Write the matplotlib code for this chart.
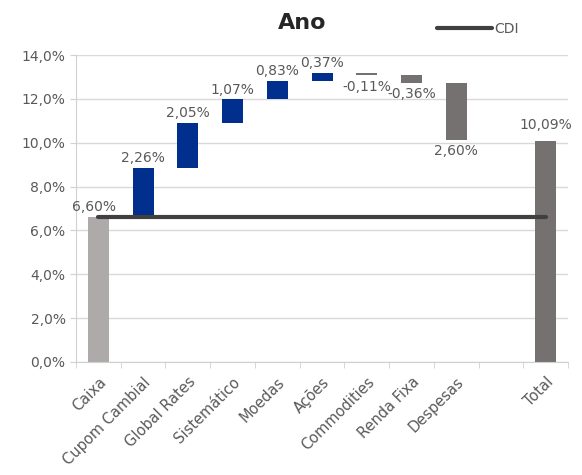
import matplotlib
matplotlib.use('Agg')
from matplotlib import pyplot as plt
import numpy as np

# categorias (a posição vazia entre Despesas e Total faz parte do gráfico)
categorias = ['Caixa', 'Cupom Cambial', 'Global Rates', 'Sistemático', 'Moedas',
              'Ações', 'Commodities', 'Renda Fixa', 'Despesas', '', 'Total']
# contribuições em % (Caixa é a base, Total é o resultado final)
caixa = 6.60
contribuicoes = [2.26, 2.05, 1.07, 0.83, 0.37, -0.11, -0.36, -2.60]
total = 10.09
cdi = 6.60
rotulos = ['6,60%', '2,26%', '2,05%', '1,07%', '0,83%', '0,37%',
           '-0,11%', '-0,36%', '2,60%', '', '10,09%']
y_ticks = [0, 2, 4, 6, 8, 10, 12, 14]

azul = '#002F8E'
cinza_claro = '#AEAAAA'
cinza_escuro = '#767171'
texto = '#595959'

fig = plt.figure(figsize=(5.82, 4.75), dpi=100)
ax = fig.add_axes([0.1306, 0.2379, 0.8454, 0.6463])

x = np.arange(len(categorias))
largura = 0.47

# base e barras flutuantes
ax.bar(x[0], caixa, width=largura, color=cinza_claro, zorder=2)
nivel = caixa
inicio, fim = [], []
for i, v in enumerate(contribuicoes):
    cor = azul if v > 0 else cinza_escuro
    ax.bar(x[i + 1], v, bottom=nivel, width=largura, color=cor, zorder=2)
    inicio.append(nivel)
    nivel += v
    fim.append(nivel)
ax.bar(x[-1], total, width=largura, color=cinza_escuro, zorder=2)

# rótulos de dados
ax.annotate(rotulos[0], (x[0] - 0.1, caixa), xytext=(0, 2), textcoords='offset points',
            ha='center', va='bottom', fontsize=10, color=texto)
for i, v in enumerate(contribuicoes):
    if v > 0:
        ax.annotate(rotulos[i + 1], (x[i + 1], fim[i]), xytext=(0, 2),
                    textcoords='offset points', ha='center', va='bottom',
                    fontsize=10, color=texto)
    else:
        ax.annotate(rotulos[i + 1], (x[i + 1], fim[i]), xytext=(0, -3),
                    textcoords='offset points', ha='center', va='top',
                    fontsize=10, color=texto)
ax.annotate(rotulos[-1], (x[-1], total), xytext=(0, 6), textcoords='offset points',
            ha='center', va='bottom', fontsize=10, color=texto)

# linha do CDI
linha, = ax.plot([x[0], x[-1]], [cdi, cdi], color='#404040', lw=3,
                 solid_capstyle='round', zorder=3, label='CDI')

ax.set_xlim(-0.5, len(categorias) - 0.5)
ax.set_ylim(0, 14)
ax.set_yticks(y_ticks)
ax.yaxis.set_major_formatter(matplotlib.ticker.FuncFormatter(
    lambda v, p: ('%.1f%%' % v).replace('.', ',')))
ax.set_xticks(x)
ax.set_xticklabels(categorias, rotation=45, ha='right', rotation_mode='anchor')
ax.set_xticks(np.arange(-0.5, len(categorias), 1), minor=True)
ax.tick_params(axis='x', which='major', length=0, pad=9, labelsize=10.5, labelcolor=texto)
ax.tick_params(axis='x', which='minor', length=4, color='#D0D0D0')
ax.tick_params(axis='y', length=4, color='#D0D0D0', labelsize=10, labelcolor=texto)
ax.grid(axis='y', color='#D9D9D9', lw=1, zorder=0)
ax.set_axisbelow(True)
for s in ['top', 'right']:
    ax.spines[s].set_visible(False)
ax.spines['left'].set_color('#D0D0D0')
ax.spines['bottom'].set_color('#D0D0D0')

fig.text(0.52, 0.951, 'Ano', ha='center', va='center', fontsize=16,
         fontweight='bold', color='#262626')
fig.legend(handles=[linha], loc='center left', bbox_to_anchor=(0.73, 0.939),
           frameon=False, handlelength=3.9, handletextpad=0.2, fontsize=10,
           labelcolor=texto)

fig.savefig('out.png', dpi=100)
